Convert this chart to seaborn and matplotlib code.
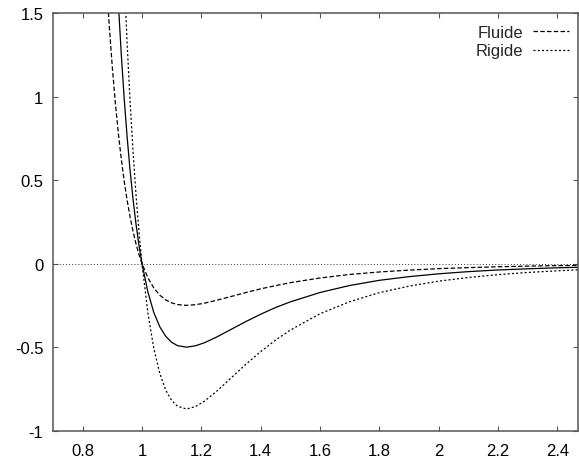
import matplotlib
matplotlib.use("Agg")
import matplotlib.pyplot as plt
import seaborn as sns
import pandas as pd

# valeurs (distance r, potentiel)
r = [0.88, 0.89, 0.90, 0.91, 0.92, 0.93, 0.94, 0.95, 0.96, 0.97, 0.98, 0.99,
     1.00, 1.02, 1.04, 1.06, 1.08, 1.10, 1.12, 1.15, 1.18, 1.21, 1.25, 1.30,
     1.35, 1.40, 1.45, 1.50, 1.60, 1.70, 1.80, 1.90, 2.00, 2.10, 2.20, 2.30,
     2.40, 2.47]

moyen = [3.391, 2.832, 2.349, 1.931, 1.570, 1.258, 0.988, 0.756, 0.555, 0.383,
         0.235, 0.108, 0.000, -0.171, -0.293, -0.378, -0.435, -0.471, -0.491,
         -0.500, -0.492, -0.474, -0.441, -0.394, -0.347, -0.303, -0.263, -0.229,
         -0.173, -0.131, -0.100, -0.078, -0.061, -0.048, -0.038, -0.031, -0.025,
         -0.022]

fluide = [1.696, 1.416, 1.174, 0.965, 0.785, 0.629, 0.494, 0.378, 0.278, 0.192,
          0.118, 0.054, 0.000, -0.085, -0.146, -0.189, -0.217, -0.235, -0.245,
          -0.250, -0.246, -0.237, -0.220, -0.197, -0.173, -0.151, -0.132, -0.114,
          -0.086, -0.065, -0.050, -0.039, -0.030, -0.024, -0.019, -0.015, -0.012,
          -0.011]

rigide = [5.901, 4.928, 4.087, 3.360, 2.731, 2.188, 1.719, 1.315, 0.966, 0.667,
          0.409, 0.189, 0.000, -0.297, -0.509, -0.657, -0.757, -0.819, -0.854,
          -0.870, -0.856, -0.824, -0.767, -0.685, -0.603, -0.527, -0.458, -0.398,
          -0.300, -0.228, -0.174, -0.135, -0.105, -0.083, -0.066, -0.053, -0.043,
          -0.037]

xticks = [0.8, 1.0, 1.2, 1.4, 1.6, 1.8, 2.0, 2.2, 2.4]
xlabels = ["0.8", "1", "1.2", "1.4", "1.6", "1.8", "2", "2.2", "2.4"]
yticks = [-1, -0.5, 0, 0.5, 1, 1.5]
ylabels = ["-1", "-0.5", "0", "0.5", "1", "1.5"]

sns.set_theme(style="white")
plt.rcParams["font.family"] = ["Liberation Sans", "DejaVu Sans"]

df = pd.DataFrame({"r": r, "moyen": moyen, "fluide": fluide, "rigide": rigide})

fig = plt.figure(figsize=(5.79, 4.60), dpi=100)
ax = fig.add_axes([53 / 579, 28.3 / 460, 525 / 579, 417.7 / 460])

# axe y = 0 en pointillés fins
ax.axhline(0, color="#333333", lw=0.7, ls=(0, (1, 2.2)), zorder=1)

sns.lineplot(data=df, x="r", y="moyen", ax=ax, color="black", lw=0.9,
             sort=False, estimator=None)
sns.lineplot(data=df, x="r", y="fluide", ax=ax, color="black", lw=0.9,
             sort=False, estimator=None, ls=(0, (3.6, 1.8)), label="Fluide")
sns.lineplot(data=df, x="r", y="rigide", ax=ax, color="black", lw=0.9,
             sort=False, estimator=None, ls=(0, (1.6, 1.8)), label="Rigide")

ax.set_xlim(0.7, 2.47)
ax.set_ylim(-1, 1.5)
ax.set_xticks(xticks)
ax.set_xticklabels(xlabels)
ax.set_yticks(yticks)
ax.set_yticklabels(ylabels)
ax.set_xlabel("")
ax.set_ylabel("")

for s in ax.spines.values():
    s.set_visible(True)
    s.set_color("#555555")
    s.set_linewidth(1.1)

ax.tick_params(axis="both", direction="in", length=3.4, width=0.8,
               color="#555555", labelsize=12, labelcolor="black",
               top=True, right=True, bottom=True, left=True)
ax.tick_params(axis="x", pad=9)
ax.tick_params(axis="y", pad=7)

leg = ax.legend(loc="upper right", bbox_to_anchor=(0.983, 0.972),
                frameon=False, fontsize=12, markerfirst=False,
                handlelength=2.15, handletextpad=0.6, labelspacing=0.22,
                borderaxespad=0, borderpad=0)

fig.savefig("out.png", dpi=100)
